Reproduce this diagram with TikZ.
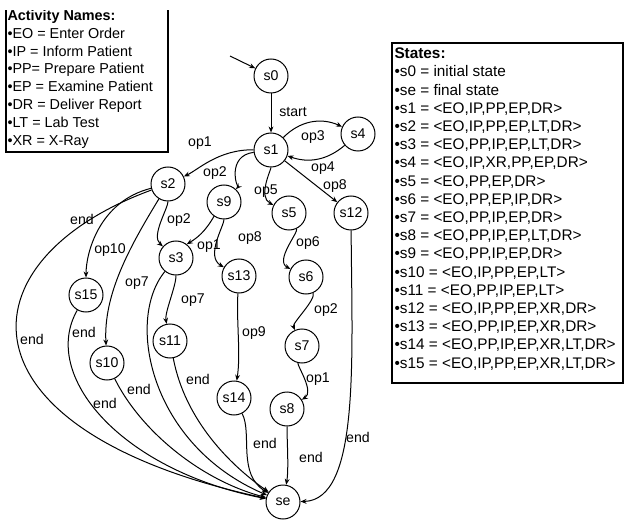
\documentclass[tikz,border=0pt]{standalone}
\usepackage{fontspec}
\setmainfont{Liberation Sans}
\usetikzlibrary{arrows.meta}

\tikzset{every picture/.style={line width=0.75pt}}
\tikzset{
  state/.style={circle,draw,minimum size=25.5pt,inner sep=0pt,font=\fontsize{10.6}{12}\selectfont},
  lbl/.style={inner sep=0.75pt,font=\fontsize{10.6}{12}\selectfont},
  trans/.style={-{Stealth[length=4.5pt,width=3.6pt]}},
  legend/.style={inner sep=0pt,align=left,anchor=north west},
}

\begin{document}
\begin{tikzpicture}[x=0.75pt,y=0.75pt,yscale=-1,xscale=1]
\path[use as bounding box] (0,0) rectangle (624,520);
\clip (0,0) rectangle (624,520);

%Shape: Rectangle [id:names box]
\draw[line width=1pt] (6,-10) rectangle (168,152);
%Shape: Rectangle [id:states box]
\draw[line width=1pt] (392,43) rectangle (623,383);

% Text Node
\node[legend,font=\fontsize{10.8}{13.35}\selectfont] (names) at (7,9.5) {\textbf{Activity Names:}\\
•EO = Enter Order\\
•IP = Inform Patient\\
•PP= Prepare Patient\\
•EP = Examine Patient\\
•DR = Deliver Report\\
•LT = Lab Test\\
•XR = X-Ray};
%Shape: Rectangle [id:top cut]
\fill[white] (0,0) rectangle (175,10);
% Text Node
\node[legend,font=\fontsize{11.5}{13.65}\selectfont] (states) at (394,47.5) {\textbf{States:}\\
•s0 = initial state\\
•se = final state\\
•s1 = <EO,IP,PP,EP,DR>\\
•s2 = <EO,IP,PP,EP,LT,DR>\\
•s3 = <EO,PP,IP,EP,LT,DR>\\
•s4 = <EO,IP,XR,PP,EP,DR>\\
•s5 = <EO,PP,EP,DR>\\
•s6 = <EO,PP,EP,IP,DR>\\
•s7 = <EO,PP,IP,EP,DR>\\
•s8 = <EO,PP,IP,EP,LT,DR>\\
•s9 = <EO,PP,IP,EP,DR>\\
•s10 = <EO,IP,PP,EP,LT>\\
•s11 = <EO,PP,IP,EP,LT>\\
•s12 = <EO,IP,PP,EP,XR,DR>\\
•s13 = <EO,PP,IP,EP,XR,DR>\\
•s14 = <EO,PP,IP,EP,XR,LT,DR>\\
•s15 = <EO,IP,PP,EP,XR,LT,DR>};

%Shape: Circle [id:states]
\node[state] (s0) at (271,76) {s0};
\node[state] (s1) at (271,150) {s1};
\node[state] (s4) at (358,134) {s4};
\node[state] (s2) at (168,184) {s2};
\node[state] (s9) at (224,202) {s9};
\node[state] (s5) at (289,213) {s5};
\node[state] (s12) at (351,213) {s12};
\node[state] (s3) at (176,258) {s3};
\node[state] (s13) at (239,276) {s13};
\node[state] (s6) at (306,277) {s6};
\node[state] (s15) at (86,295) {s15};
\node[state] (s11) at (170,341) {s11};
\node[state] (s7) at (302,346) {s7};
\node[state] (s10) at (107,363) {s10};
\node[state] (s14) at (234,398) {s14};
\node[state] (s8) at (287,409) {s8};
\node[state] (se) at (283,502) {se};
\coordinate (init) at (230,56);

%Straight Lines and Curves
\draw[trans] (init) -- (s0);
\draw[trans] (s0) -- (s1);
\draw[trans] (s1) to[bend right=35] (s4);
\draw[trans] (s4) to[bend right=30] (s1);
\draw[trans] (s1) to[out=-178,in=-55] (s2);
\draw[trans] (s1) to[out=155,in=-75] (s9);
\draw[trans] (s1) to[out=90,in=-125] (s5);
\draw[trans] (s1) -- (s12);
\draw[trans] (s2) to[out=90,in=-115] (s3);
\draw[trans] (s2) to[out=155,in=-90] (s15);
\draw[trans] (s2) to[out=112,in=-92] (s10);
\draw[trans] (s9.235) .. controls (205,232) and (197,238) .. (s3.52);
\draw[trans] (s9) to[out=90,in=-125] (s13);
\draw[trans] (s5) to[out=80,in=-125] (s6);
\draw[trans] (s6) to[out=80,in=-100] (s7);
\draw[trans] (s7) to[out=95,in=-60] (s8);
\draw[trans] (s3) to[out=90,in=-95] (s11);
\draw[trans] (s13) to[out=92,in=-85] (s14);
\draw[trans] (s2) .. controls (-40,260) and (-50,430) .. (se);
\draw[trans] (s15) .. controls (40,375) and (120,470) .. (se);
\draw[trans] (s10) .. controls (140,430) and (200,480) .. (se);
\draw[trans] (s3) .. controls (125,320) and (150,445) .. (se);
\draw[trans] (s11) .. controls (185,420) and (230,465) .. (se);
\draw[trans] (s14) to[out=75,in=-130] (se);
\draw[trans] (s8) to[out=90,in=-85] (se);
\draw[trans] (s12) .. controls (352,360) and (360,500) .. (se);

% Text Node
\node[lbl] (lstart) at (293,112) {start};
\node[lbl] (lop3) at (313,137) {op3};
\node[lbl] (lop4) at (323,168) {op4};
\node[lbl] (lop1a) at (200,143) {op1};
\node[lbl] (lop2a) at (215,173) {op2};
\node[lbl] (lop5) at (266,191) {op5};
\node[lbl] (lop8a) at (335,186) {op8};
\node[lbl] (lop2b) at (179,220) {op2};
\node[lbl] (lop1b) at (209,246) {op1};
\node[lbl] (lop8b) at (250,238) {op8};
\node[lbl] (lop6) at (308,243) {op6};
\node[lbl] (lend1) at (82,219) {end};
\node[lbl] (lop10) at (110,250) {op10};
\node[lbl] (lop7a) at (137,283) {op7};
\node[lbl] (lop7b) at (193,300) {op7};
\node[lbl] (lend2) at (32,339) {end};
\node[lbl] (lend3) at (84,332) {end};
\node[lbl] (lend4) at (139,389) {end};
\node[lbl] (lend5) at (105,403) {end};
\node[lbl] (lend6) at (198,379) {end};
\node[lbl] (lop9) at (254,333) {op9};
\node[lbl] (lop2c) at (326,310) {op2};
\node[lbl] (lop1c) at (318,379) {op1};
\node[lbl] (lend7) at (265,443) {end};
\node[lbl] (lend8) at (311,457) {end};
\node[lbl] (lend9) at (358,437) {end};

\end{tikzpicture}
\end{document}
